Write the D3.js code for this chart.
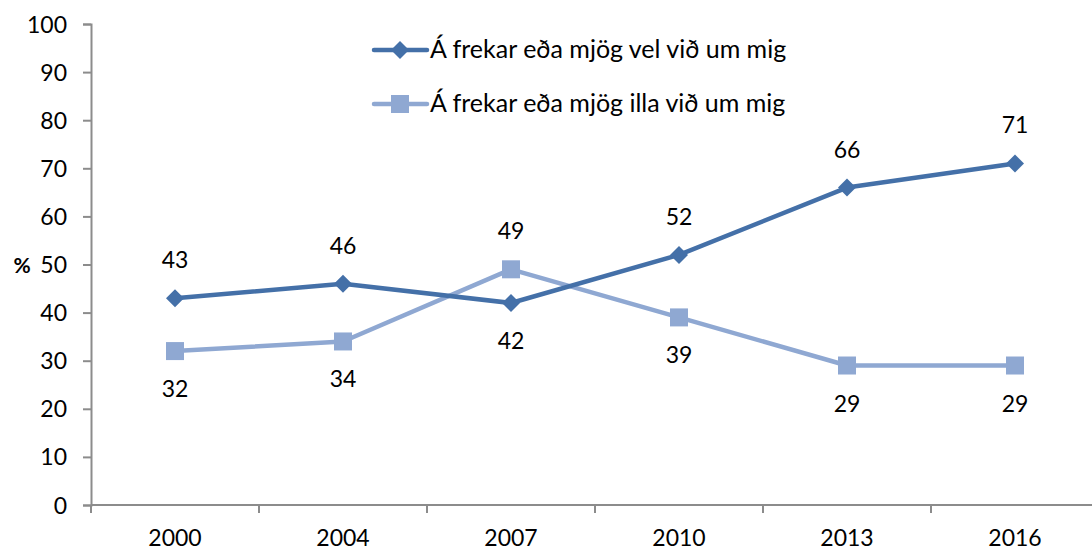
<!DOCTYPE html>
<html>
<head>
<meta charset="utf-8">
<script src="https://cdn.jsdelivr.net/npm/d3@7"></script>
<style>
  html, body { margin: 0; padding: 0; background: #fff; }
  svg { display: block; font-family: Lato, "Open Sans", "Liberation Sans", sans-serif; }
</style>
</head>
<body>
<svg id="chart" width="1092" height="551"></svg>
<script>
// Survey years and shares (%) for the two answer groups
const years = ["2000", "2004", "2007", "2010", "2013", "2016"];
const goodValues = [43, 46, 42, 52, 66, 71];
const badValues = [32, 34, 49, 39, 29, 29];
const yTicks = [0, 10, 20, 30, 40, 50, 60, 70, 80, 90, 100];
const seriesNames = ["Á frekar eða mjög vel við um mig", "Á frekar eða mjög illa við um mig"];
// label placement: above (-1) or below (+1) each point
const goodLabelSide = [-1, -1, 1, -1, -1, -1];
const badLabelSide = [1, 1, -1, 1, 1, 1];

const svg = d3.select("#chart");
const plotLeft = 91, plotRight = 1099, plotTop = 24, plotBottom = 505;
const axisColor = "#8c8c8c";
const fs = 23;

const x = d3.scaleBand().domain(years).range([plotLeft, plotRight]);
const y = d3.scaleLinear().domain([0, 100]).range([plotBottom, plotTop]);

// y axis
const yAxis = svg.append("g").attr("transform", `translate(${plotLeft},0)`)
  .call(d3.axisLeft(y).tickValues(yTicks).tickSize(8).tickPadding(16).tickFormat(d3.format("d")));
yAxis.attr("font-family", null).attr("font-size", null);
yAxis.select(".domain").attr("stroke", axisColor).attr("stroke-width", 2);
yAxis.selectAll(".tick line").attr("stroke", axisColor).attr("stroke-width", 2);
yAxis.selectAll(".tick text").attr("font-size", fs).attr("fill", "#000").attr("dy", "0.35em");

// x axis with ticks on band boundaries
const xg = svg.append("g").attr("transform", `translate(0,${plotBottom})`);
xg.append("line").attr("x1", plotLeft).attr("x2", plotRight).attr("y1", 0).attr("y2", 0)
  .attr("stroke", axisColor).attr("stroke-width", 2);
xg.selectAll("line.b").data(years).join("line").attr("class", "b")
  .attr("x1", d => x(d)).attr("x2", d => x(d)).attr("y1", 0).attr("y2", 8)
  .attr("stroke", axisColor).attr("stroke-width", 2);
xg.selectAll("text").data(years).join("text")
  .attr("x", d => x(d) + x.bandwidth() / 2).attr("y", 41)
  .attr("text-anchor", "middle").attr("font-size", fs).attr("fill", "#000").text(d => d);

// axis title
svg.append("text").attr("x", 22).attr("y", 273).attr("text-anchor", "middle")
  .attr("font-size", fs - 2).attr("font-weight", "bold").text("%");

const cx = d => x(d) + x.bandwidth() / 2;
const series = [
  { name: seriesNames[1], values: badValues, sides: badLabelSide, color: "#8FA8D2", shape: "square" },
  { name: seriesNames[0], values: goodValues, sides: goodLabelSide, color: "#4470A8", shape: "diamond" }
];

const line = d3.line().x((d, i) => cx(years[i])).y(d => y(d));

function marker(g, shape, color, px, py) {
  if (shape === "diamond") {
    g.append("path").attr("d", `M${px},${py - 9}L${px + 9},${py}L${px},${py + 9}L${px - 9},${py}Z`).attr("fill", color);
  } else {
    g.append("rect").attr("x", px - 9).attr("y", py - 9).attr("width", 18).attr("height", 18).attr("fill", color);
  }
}

series.forEach(s => {
  const g = svg.append("g");
  g.append("path").datum(s.values).attr("d", line).attr("fill", "none")
    .attr("stroke", s.color).attr("stroke-width", 4.5).attr("stroke-linejoin", "round");
  s.values.forEach((v, i) => marker(g, s.shape, s.color, cx(years[i]), y(v)));
});

// value labels
series.forEach(s => {
  svg.append("g").selectAll("text").data(s.values).join("text")
    .attr("x", (d, i) => cx(years[i]))
    .attr("y", (d, i) => y(d) + s.sides[i] * 38 + 8)
    .attr("text-anchor", "middle").attr("font-size", fs).attr("fill", "#000")
    .text(d => d);
});

// legend
const legend = [
  { name: seriesNames[0], color: "#4470A8", shape: "diamond", yy: 50 },
  { name: seriesNames[1], color: "#8FA8D2", shape: "square", yy: 104 }
];
legend.forEach(l => {
  const g = svg.append("g");
  g.append("line").attr("x1", 374).attr("x2", 427).attr("y1", l.yy).attr("y2", l.yy)
    .attr("stroke", l.color).attr("stroke-width", 4.5).attr("stroke-linecap", "round");
  marker(g, l.shape, l.color, 400, l.yy);
  g.append("text").attr("x", 430).attr("y", l.yy + 8).attr("font-size", 25).attr("fill", "#000").text(l.name);
});
</script>
</body>
</html>
